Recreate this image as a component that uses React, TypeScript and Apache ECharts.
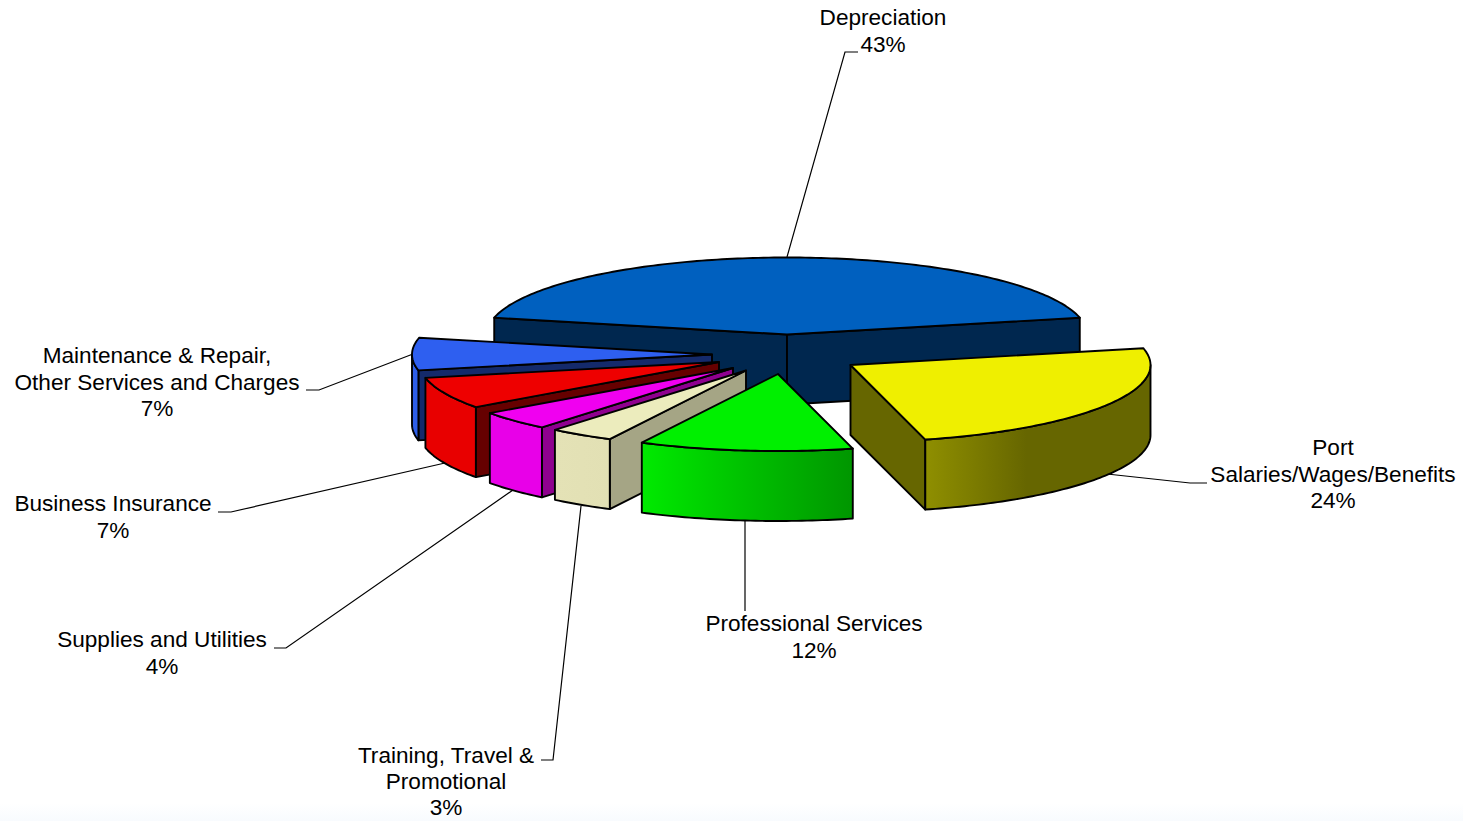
import React, { useEffect, useRef } from "react";
import * as echarts from "echarts";

// Data, clockwise from the start of Depreciation
const categories = [
  "Depreciation",
  "Port\nSalaries/Wages/Benefits",
  "Professional Services",
  "Training, Travel &\nPromotional",
  "Supplies and Utilities",
  "Business Insurance",
  "Maintenance & Repair,\nOther Services and Charges",
];
const values = [43, 24.49, 11.51, 3.49, 4.05, 6.66, 6.8];

// Painter's order (back to front), by category index
const drawOrder = [0, 6, 5, 4, 3, 2, 1];

// Styles
const topColors = ["#0060BF", "#EFEF00", "#00F000", "#ECECBD", "#F000F0", "#EE0000", "#2E5FF0"];
const sideColors = ["#00274F", "#666600", "#008800", "#A5A585", "#8F008F", "#660000", "#142A6B"];
const wallStops: [number, string][][] = [
  [[0, "#00274F"], [1, "#00274F"]],
  [[0, "#8F8F00"], [0.45, "#666600"], [1, "#666600"]],
  [[0, "#00EA00"], [1, "#009600"]],
  [[0, "#E4E2B6"], [1, "#E2E0B4"]],
  [[0, "#E800E8"], [1, "#E800E8"]],
  [[0, "#E80000"], [1, "#E80000"]],
  [[0, "#2E5FE8"], [1, "#2E5FE8"]],
];

// Layout
const RX = 300;
const RY = 77;
const DEPTH = 70;
const LINE_STEP = 26.2;
const apexes = [[787, 334.5], [850.5, 365], [778, 374], [746, 370.5], [733, 368], [719, 362], [712, 354.5]];
const labelCenters = [[883, 31], [1333, 474], [814, 637], [446, 781.5], [162, 653], [113, 517], [157, 382]];
const leaders = [
  [[787, 257], [845, 52], [858, 52]],
  [[1107, 474], [1190, 483], [1207, 483]],
  [[745, 521], [745, 611]],
  [[581, 506], [553, 760], [541, 760]],
  [[513, 490], [286, 648], [274, 648]],
  [[445, 463], [231, 512], [218, 512]],
  [[413, 354], [319, 390], [306, 390]],
];

const total = values.reduce((a, b) => a + b, 0);
const startAngle = -(values[0] / total) * 180;
const sweeps = values.map((v) => (v / total) * 360);
const starts: number[] = [];
sweeps.reduce((acc, s, i) => {
  starts[i] = acc;
  return acc + s;
}, startAngle);

const rad = (d: number) => (d * Math.PI) / 180;

function renderItem(_params: any, api: any) {
  const idx = api.value(0) as number;
  const [cx, cy] = apexes[idx];
  const a0 = starts[idx];
  const a1 = a0 + sweeps[idx];
  const pt = (a: number, drop = 0): number[] => [
    cx + RX * Math.sin(rad(a)),
    cy - RY * Math.cos(rad(a)) + drop,
  ];
  const arc = (from: number, to: number, drop = 0) => {
    const n = Math.max(2, Math.ceil(Math.abs(to - from)));
    const out: number[][] = [];
    for (let i = 0; i <= n; i++) out.push(pt(from + ((to - from) * i) / n, drop));
    return out;
  };
  const edge = { stroke: "#000", lineWidth: 1.9, lineJoin: "round" };
  const children: any[] = [];

  children.push({
    type: "polyline",
    shape: { points: leaders[idx] },
    style: { stroke: "#000", lineWidth: 1.2, fill: "none" },
  });

  const radialFace = (a: number) => ({
    type: "polygon",
    shape: { points: [[cx, cy], pt(a), pt(a, DEPTH), [cx, cy + DEPTH]] },
    style: { fill: sideColors[idx], ...edge },
  });
  if (Math.sin(rad(a0)) < 0) children.push(radialFace(a0));
  if (Math.sin(rad(a1)) > 0) children.push(radialFace(a1));

  const w0 = Math.max(a0, 90);
  const w1 = Math.min(a1, 270);
  if (w1 > w0) {
    children.push({
      type: "polygon",
      shape: { points: [...arc(w0, w1), ...arc(w1, w0, DEPTH)] },
      style: {
        fill: new echarts.graphic.LinearGradient(
          0, 0, 1, 0,
          wallStops[idx].map(([offset, color]) => ({ offset, color }))
        ),
        ...edge,
      },
    });
  }

  children.push({
    type: "polygon",
    shape: { points: [[cx, cy], ...arc(a0, a1)] },
    style: { fill: topColors[idx], ...edge },
  });

  const lines = `${categories[idx]}\n${Math.round((values[idx] / total) * 100)}%`.split("\n");
  lines.forEach((line, i) => {
    children.push({
      type: "text",
      x: labelCenters[idx][0],
      y: labelCenters[idx][1] + (i - (lines.length - 1) / 2) * LINE_STEP,
      style: {
        text: line,
        fill: "#000",
        font: '22.6px "Liberation Sans", Arial, sans-serif',
        lineHeight: 19,
        align: "center",
        verticalAlign: "middle",
      },
    });
  });

  return { type: "group", children };
}

export default function App() {
  const ref = useRef<HTMLDivElement>(null);
  useEffect(() => {
    const chart = echarts.init(ref.current!, null, { renderer: "svg" });
    chart.setOption({
      animation: false,
      backgroundColor: "#fff",
      graphic: [
        {
          type: "rect",
          silent: true,
          z: -10,
          shape: { x: 0, y: 803, width: 1463, height: 18 },
          style: {
            fill: new echarts.graphic.LinearGradient(0, 0, 0, 1, [
              { offset: 0, color: "#FFFFFF" },
              { offset: 1, color: "#F8FBFE" },
            ]),
          },
        },
      ],
      series: [
        {
          type: "custom",
          coordinateSystem: "none",
          renderItem,
          clip: false,
          silent: true,
          data: drawOrder.map((i) => [i, values[i]]),
        },
      ],
    });
    return () => chart.dispose();
  }, []);
  return (
    <div
      ref={ref}
      style={{ position: "fixed", left: 0, top: 0, width: 1463, height: 821 }}
    />
  );
}
